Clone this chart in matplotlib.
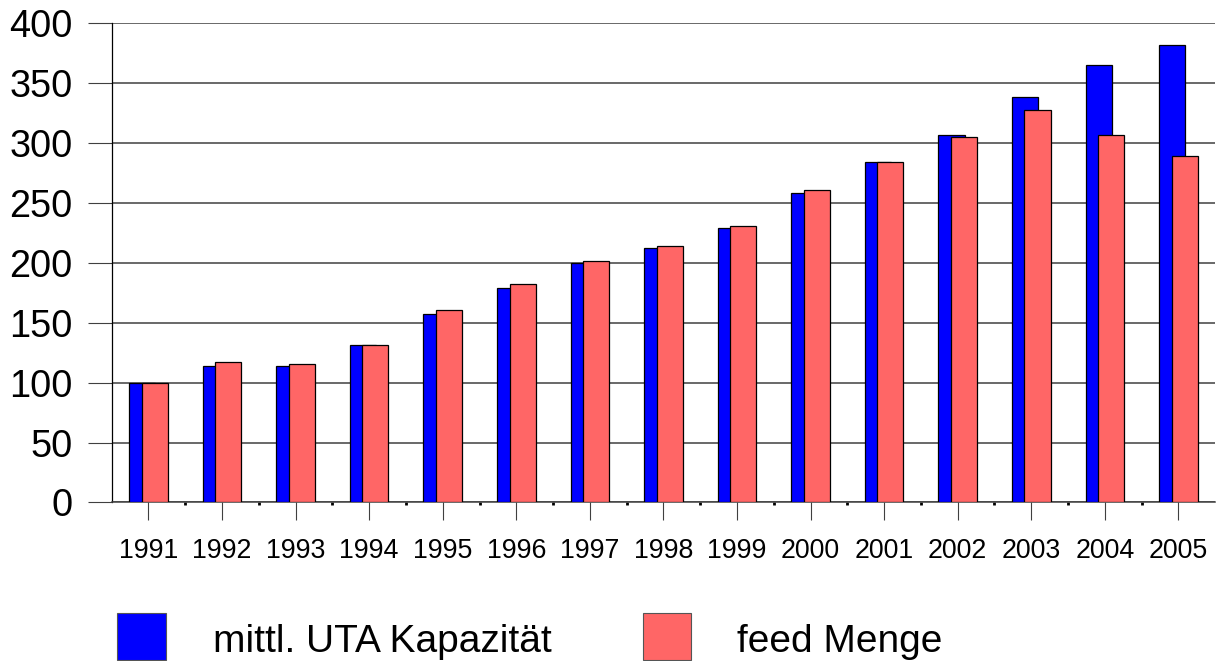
import numpy as np
import matplotlib
matplotlib.use("Agg")
import matplotlib.pyplot as plt
from matplotlib.patches import Rectangle

years = [str(y) for y in range(1991, 2006)]
kapazitaet = [100, 113.8, 113.8, 131.3, 157, 179, 199.4, 212, 229, 258.3, 283.9, 306.4, 338.1, 364.7, 381.4]
feed = [100, 117.5, 115.5, 131.3, 160.8, 182.5, 201.4, 214.2, 230.8, 260.3, 283.6, 304.4, 327.3, 306.4, 288.9]
yticks = [0, 50, 100, 150, 200, 250, 300, 350, 400]
legend_labels = ["mittl. UTA Kapazität", "feed Menge"]

BLUE = "#0000ff"
RED = "#ff6666"
GRID = "#404040"
W, H = 1218, 661

plt.rcParams["font.family"] = ["Liberation Sans", "DejaVu Sans"]

fig = plt.figure(figsize=(W / 100, H / 100), dpi=100)
ax = fig.add_axes([0.0917, 0.2398, 0.906, 0.726])

x = np.arange(len(years))
w = 0.355
ax.bar(x - 0.085, kapazitaet, width=w, color=BLUE, edgecolor="black", linewidth=0.9, zorder=3)
ax.bar(x + 0.085, feed, width=w, color=RED, edgecolor="black", linewidth=0.9, zorder=4)

ax.set_xlim(-0.5, len(years) - 0.5)
ax.set_ylim(0, 400)
ax.set_yticks(yticks)
ax.set_yticklabels([str(v) for v in yticks], fontsize=27.3)
ax.set_xticks(x)
ax.set_xticklabels(years, fontsize=19.3)
ax.set_xticks(x[:-1] + 0.5, minor=True)

ax.yaxis.grid(True, color=GRID, linewidth=1.1, zorder=1)
ax.set_axisbelow(True)
ax.tick_params(axis="y", length=17, width=0.8, color=GRID, pad=11)
ax.tick_params(axis="x", which="major", length=13, width=0.8, color=GRID, pad=12.5)
ax.tick_params(axis="x", which="minor", length=2, width=2, color="black")

for s in ["top", "right"]:
    ax.spines[s].set_visible(False)
ax.spines["left"].set_color("black")
ax.spines["left"].set_linewidth(0.9)
ax.spines["bottom"].set_color(GRID)
ax.spines["bottom"].set_linewidth(1.1)

# legend drawn by hand, below the plot
for (px, tx), col, lab in zip([(117.3, 213), (642.5, 737)], [BLUE, RED], legend_labels):
    fig.add_artist(Rectangle((px / W, 1 - 660.3 / H), 48.5 / W, 47 / H,
                             transform=fig.transFigure, facecolor=col,
                             edgecolor="#555555", linewidth=0.8))
    fig.text(tx / W, 1 - 651.7 / H, lab, fontsize=28, va="baseline", ha="left")

fig.savefig("out.png", dpi=100)
